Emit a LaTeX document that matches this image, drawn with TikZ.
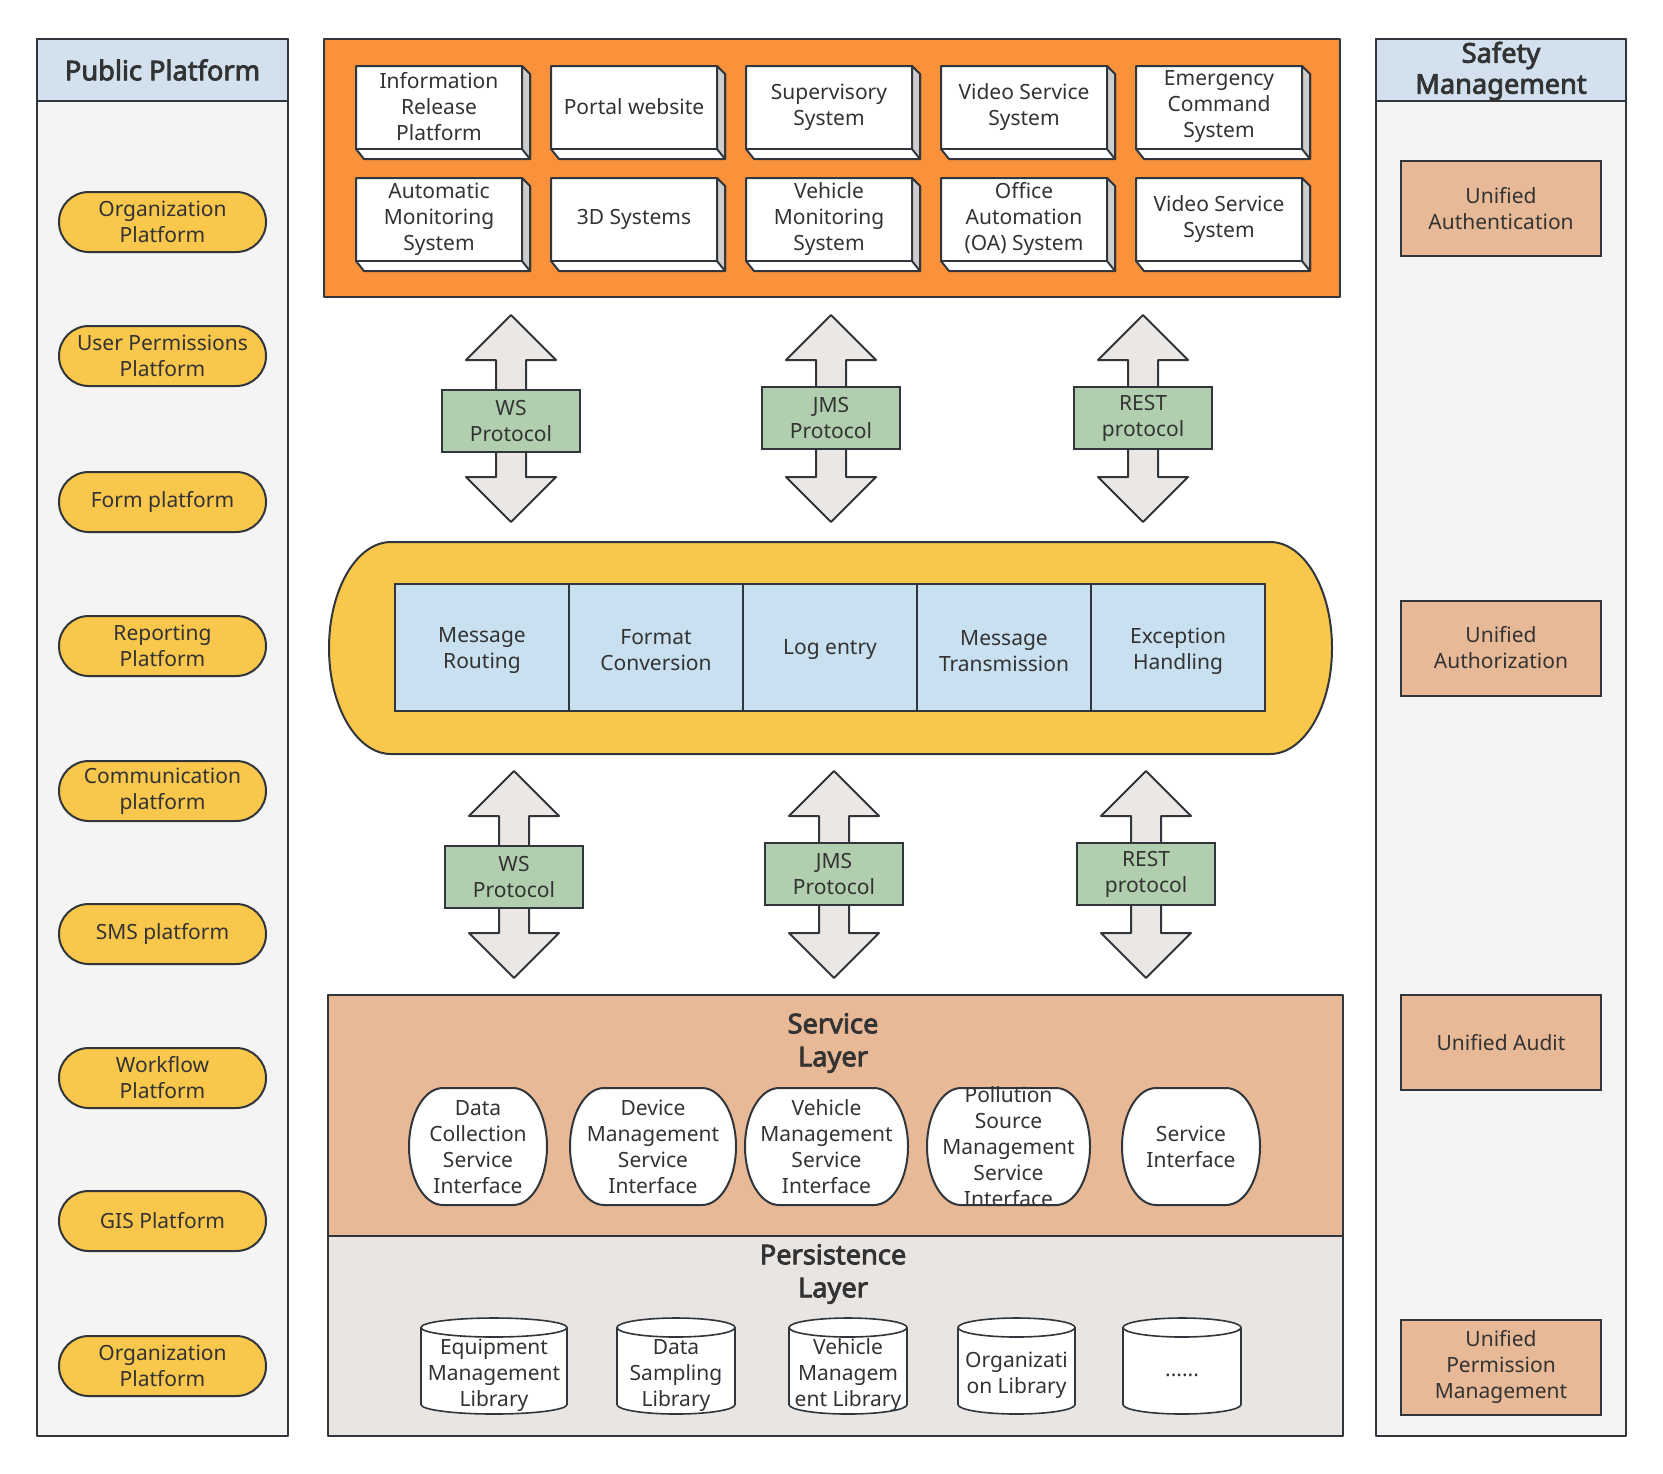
\documentclass[tikz,border=0pt]{standalone}
\usepackage{fontspec}
\setmainfont{Noto Sans}[AutoFakeBold=3]
\definecolor{linec}{HTML}{30363B}
\definecolor{textc}{HTML}{333333}
\definecolor{panelc}{HTML}{F4F4F4}
\definecolor{headc}{HTML}{D3E1EF}
\definecolor{yellowc}{HTML}{F9C74B}
\definecolor{orangec}{HTML}{F9923B}
\definecolor{greenc}{HTML}{B1CFAE}
\definecolor{bluec}{HTML}{C8E0F0}
\definecolor{salmonc}{HTML}{E8B996}
\definecolor{persc}{HTML}{E9E5E2}
\definecolor{arrowc}{HTML}{EBE7E4}
\definecolor{sidec}{HTML}{CDCDCD}
\newcommand\cubebox[4]{%
  \pgfmathsetmacro\cxa{#1+166}%
  \pgfmathsetmacro\cxb{#1+174}%
  \pgfmathsetmacro\cxc{#1+8}%
  \pgfmathsetmacro\cya{#2+83}%
  \pgfmathsetmacro\cyb{#2+93}%
  \pgfmathsetmacro\cyc{#2+8}%
  \draw[shp, fill=white] (#1,#2) -- (\cxa,#2) -- (\cxb,\cyc) -- (\cxb,\cyb) -- (\cxc,\cyb) -- (#1,\cya) -- cycle;
  \draw[shp, fill=sidec] (\cxa,#2) -- (\cxb,\cyc) -- (\cxb,\cyb) -- (\cxa,\cya) -- cycle;
  \draw[shp] (#1,\cya) -- (\cxa,\cya);
  \node[txt] (#3) at ({#1+83},{#2+41}) {#4};
}
\newcommand\dblarrow[5]{%
  \draw[shp, fill=arrowc] (#1,#2) -- ({#1+45},#3) -- ({#1+15},#3) -- ({#1+15},#4) -- ({#1+45},#4) -- (#1,#5)
    -- ({#1-45},#4) -- ({#1-15},#4) -- ({#1-15},#3) -- ({#1-45},#3) -- cycle;
}
\newcommand\ovalshape[6]{%
  \pgfmathsetmacro\oxa{#2+#6}%
  \pgfmathsetmacro\oxb{#4-#6}%
  \pgfmathsetmacro\oym{(#3+#5)/2}%
  \pgfmathsetmacro\ory{(#5-#3)/2}%
  \pgfmathsetmacro\okx{0.5523*#6}%
  \pgfmathsetmacro\oky{0.5523*\ory}%
  \draw[shp, fill=#1] (\oxa,#3) -- (\oxb,#3) .. controls ({\oxb+\okx},#3) and (#4,{\oym-\oky}) .. (#4,\oym)
    .. controls (#4,{\oym+\oky}) and ({\oxb+\okx},#5) .. (\oxb,#5) -- (\oxa,#5)
    .. controls ({\oxa-\okx},#5) and (#2,{\oym+\oky}) .. (#2,\oym)
    .. controls (#2,{\oym-\oky}) and ({\oxa-\okx},#3) .. (\oxa,#3) -- cycle;
}
\newcommand\cylshape[4]{%
  \pgfmathsetmacro\ccx{(#1+#3)/2}%
  \pgfmathsetmacro\ckx{0.5523*(#3-#1)/2}%
  \pgfmathsetmacro\cta{#2+9.5}%
  \pgfmathsetmacro\ctb{#2+19}%
  \pgfmathsetmacro\cba{#4-9.5}%
  \draw[cylline, fill=white] (#1,\cta) -- (#1,\cba) .. controls (#1,{\cba+5.25}) and ({\ccx-\ckx},#4) .. (\ccx,#4)
    .. controls ({\ccx+\ckx},#4) and (#3,{\cba+5.25}) .. (#3,\cba) -- (#3,\cta)
    .. controls (#3,{\cta-5.25}) and ({\ccx+\ckx},#2) .. (\ccx,#2)
    .. controls ({\ccx-\ckx},#2) and (#1,{\cta-5.25}) .. (#1,\cta) -- cycle;
  \draw[cylline] (#1,\cta) .. controls (#1,{\cta+5.25}) and ({\ccx-\ckx},\ctb) .. (\ccx,\ctb)
    .. controls ({\ccx+\ckx},\ctb) and (#3,{\cta+5.25}) .. (#3,\cta);
}
\begin{document}
\begin{tikzpicture}[x=0.5pt,y=-0.5pt,
  shp/.style={draw=linec, line width=1pt, line join=round},
  cylline/.style={draw=linec, line width=0.8pt},
  txt/.style={text=textc, align=center, inner sep=0pt, font=\fontsize{10.5}{13}\selectfont},
  ttl/.style={text=textc, align=center, inner sep=0pt, font=\fontsize{13.6}{16.5}\selectfont\bfseries},
  pill/.style={txt, draw=linec, line width=1pt, fill=yellowc, rounded corners=14.9pt, minimum width=103.5pt, minimum height=30pt},
  sbox/.style={txt, draw=linec, line width=1pt, fill=salmonc, minimum width=100pt, minimum height=47.5pt},
  proto/.style={txt, draw=linec, line width=1pt, fill=greenc, minimum width=69pt, minimum height=31pt},
  cell/.style={draw=linec, line width=1pt, fill=bluec, inner sep=0pt, minimum width=87pt, minimum height=63.5pt}]
\useasboundingbox (0,0) rectangle (1663,1473);
\fill[white] (0,0) rectangle (1663,1473);

% ---------- left panel ----------
\draw[shp, fill=panelc] (37,39) rectangle (288,1436);
\draw[shp, fill=headc] (37,39) rectangle (288,101);
\node[ttl] (pubtitle) at (162.5,70) {Public Platform};
\node[pill] (p1) at (162.5,222) {Organization\\Platform};
\node[pill] (p2) at (162.5,356) {User Permissions\\Platform};
\node[pill] (p3) at (162.5,502) {Form platform};
\node[pill] (p4) at (162.5,646) {Reporting\\Platform};
\node[pill] (p5) at (162.5,791) {Communication\\platform};
\node[pill] (p6) at (162.5,934) {SMS platform};
\node[pill] (p7) at (162.5,1078) {Workflow\\Platform};
\node[pill] (p8) at (162.5,1221) {GIS Platform};
\node[pill] (p9) at (162.5,1366) {Organization\\Platform};

% ---------- right panel ----------
\draw[shp, fill=panelc] (1376,39) rectangle (1626,1436);
\draw[shp, fill=headc] (1376,39) rectangle (1626,101);
\node[ttl, font=\fontsize{13.6}{15.5}\selectfont\bfseries] (saftitle) at (1501,71) {Safety\\Management};
\node[sbox] (s1) at (1501,208.5) {Unified\\Authentication};
\node[sbox] (s2) at (1501,648) {Unified\\Authorization};
\node[sbox] (s3) at (1501,1042.5) {Unified Audit};
\node[sbox] (s4) at (1501,1367) {Unified\\Permission\\Management};

% ---------- top application layer ----------
\draw[shp, fill=orangec] (324,39) rectangle (1340,297);
\cubebox{356}{66}{a1}{Information\\Release\\Platform}
\cubebox{551}{66}{a2}{Portal website}
\cubebox{746}{66}{a3}{Supervisory\\System}
\cubebox{941}{66}{a4}{Video Service\\System}
\cubebox{1136}{66}{a5}{Emergency\\Command\\System}
\cubebox{356}{178}{b1}{Automatic\\Monitoring\\System}
\cubebox{551}{178}{b2}{3D Systems}
\cubebox{746}{178}{b3}{Vehicle\\Monitoring\\System}
\cubebox{941}{178}{b4}{Office\\Automation\\(OA) System}
\cubebox{1136}{178}{b5}{Video Service\\System}

% ---------- upper protocol arrows ----------
\dblarrow{511}{315}{360}{477}{522}
\dblarrow{831}{315}{360}{477}{522}
\dblarrow{1143}{315}{360}{477}{522}
\node[proto] (u1) at (511,421) {WS\\Protocol};
\node[proto] (u2) at (831,418) {JMS\\Protocol};
\node[proto] (u3) at (1143,418) {REST\\protocol};

% ---------- bus ----------
\ovalshape{yellowc}{329}{542}{1332}{754}{62}
\node[cell] (c1) at (482,647.5) {};
\node[cell] (c2) at (656,647.5) {};
\node[cell] (c3) at (830,647.5) {};
\node[cell] (c4) at (1004,647.5) {};
\node[cell] (c5) at (1178,647.5) {};
\node[txt] (c1t) at (482,651) {Message\\Routing};
\node[txt] (c2t) at (656,650) {Format\\Conversion};
\node[txt] (c3t) at (830,649.5) {Log entry};
\node[txt] (c4t) at (1004,651) {Message\\Transmission};
\node[txt] (c5t) at (1178,651) {Exception\\Handling};

% ---------- lower protocol arrows ----------
\dblarrow{514}{771}{816}{933}{978}
\dblarrow{834}{771}{816}{933}{978}
\dblarrow{1146}{771}{816}{933}{978}
\node[proto] (l1) at (514,876.5) {WS\\Protocol};
\node[proto] (l2) at (834,874) {JMS\\Protocol};
\node[proto] (l3) at (1146,874) {REST\\protocol};

% ---------- service layer ----------
\draw[shp, fill=salmonc] (328,995) rectangle (1343,1236);
\node[ttl] (sltitle) at (833,1043) {Service\\Layer};
\ovalshape{white}{409}{1088}{547}{1205}{34}
\ovalshape{white}{570}{1088}{736}{1205}{34}
\ovalshape{white}{745}{1088}{908}{1205}{34}
\ovalshape{white}{927}{1088}{1090}{1205}{34}
\ovalshape{white}{1122}{1088}{1260}{1205}{34}
\node[txt] (i1) at (478,1147) {Data\\Collection\\Service\\Interface};
\node[txt] (i2) at (653,1147) {Device\\Management\\Service\\Interface};
\node[txt] (i3) at (826.5,1147) {Vehicle\\Management\\Service\\Interface};
\node[txt] (i4) at (1008.5,1147) {Pollution\\Source\\Management\\Service\\Interface};
\node[txt] (i5) at (1191,1147) {Service\\Interface};

% ---------- persistence layer ----------
\draw[shp, fill=persc] (328,1236) rectangle (1343,1436);
\node[ttl] (pltitle) at (833,1274) {Persistence\\Layer};
\cylshape{421}{1318}{567}{1414}
\cylshape{617}{1318}{735}{1414}
\cylshape{789}{1318}{907}{1414}
\cylshape{958}{1318}{1075}{1414}
\cylshape{1123}{1318}{1241}{1414}
\node[txt] (d1) at (494,1375.5) {Equipment\\Management\\Library};
\node[txt] (d2) at (676,1375.5) {Data\\Sampling\\Library};
\node[txt] (d3) at (848,1375.5) {Vehicle\\Managem\\ent Library};
\node[txt] (d4) at (1016.5,1375.5) {Organizati\\on Library};
\node[txt] (d5) at (1182,1375.5) {......};
\end{tikzpicture}
\end{document}
